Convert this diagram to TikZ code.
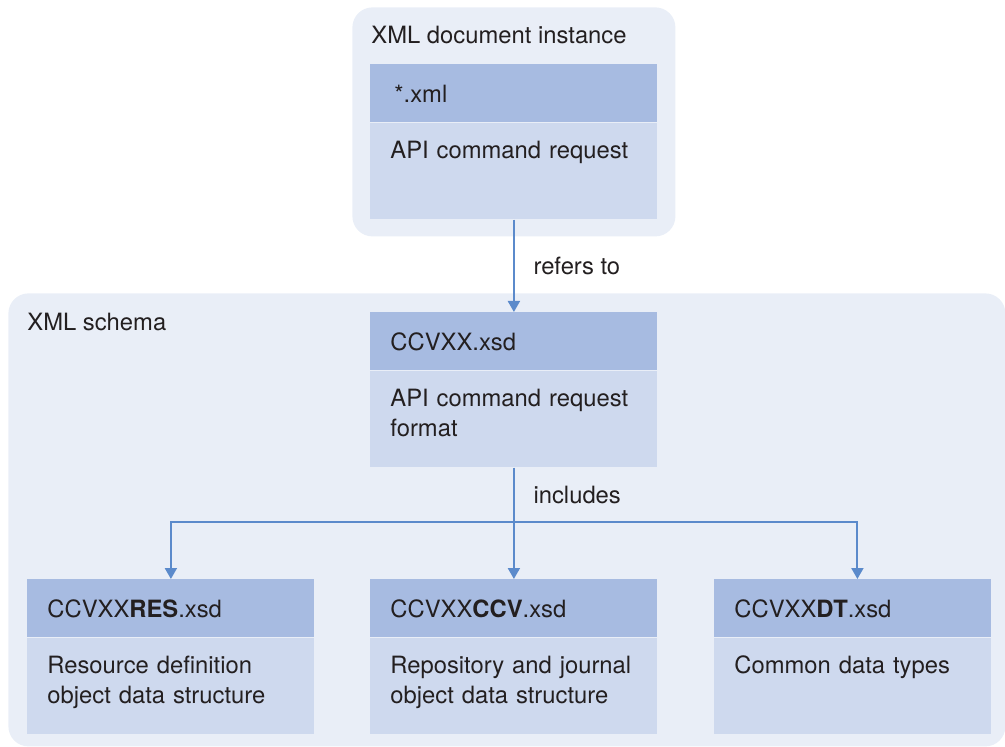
\documentclass[tikz,border=0pt]{standalone}
\usepackage{fontspec}
\setmainfont{TeX Gyre Heros}
\usepackage{tikz}
\usetikzlibrary{arrows.meta,positioning}

\definecolor{groupfill}{HTML}{E9EEF7}
\definecolor{headfill}{HTML}{A7BBE1}
\definecolor{bodyfill}{HTML}{CED9EE}
\definecolor{linkblue}{HTML}{5B8ACB}
\definecolor{inkgray}{HTML}{231F20}

\begin{document}
\begin{tikzpicture}[
  x=0.5pt, y=-0.5pt,
  every node/.style={font=\fontsize{11.9}{15}\selectfont, text=inkgray},
  group/.style={fill=groupfill, rounded corners=10pt, anchor=north west, inner sep=0pt},
  title/.style={anchor=base west, inner sep=0pt},
  head/.style={fill=headfill, anchor=north west, text width=123.5pt, inner xsep=10pt, inner ysep=0pt, minimum height=29pt, align=left},
  body/.style={fill=bodyfill, text width=123.5pt, inner xsep=10pt, inner ysep=9pt, text height=8.5pt, text depth=21.5pt, align=left, below=0pt of #1},
  link/.style={-{Triangle[width=6pt,length=5.5pt]}, draw=linkblue, line width=1pt},
  linkline/.style={draw=linkblue, line width=1pt}
]
\useasboundingbox (0,0) rectangle (1005,747);

% containers
\node[group, minimum width=161.5pt, minimum height=114.5pt] (inst) at (352,7) {};
\node[group, minimum width=498.5pt, minimum height=226.5pt] (schema) at (8,293) {};

% document instance
\node[title] (insttitle) at (371,44) {XML document instance};
\node[head] (xmlhead) at (370,64) {\hspace{2pt}*.xml};
\node[body=xmlhead] (xmlbody) {API command request};

% schema files
\node[title] (schematitle) at (27,331) {XML schema};
\node[head] (cmdhead) at (370,312) {CCVXX.xsd};
\node[body=cmdhead] (cmdbody) {API command request\\format};

\node[head] (reshead) at (27,579) {CCVXX\textbf{RES}.xsd};
\node[body=reshead] (resbody) {Resource definition\\object data structure};
\node[head] (ccvhead) at (370,579) {CCVXX\textbf{CCV}.xsd};
\node[body=ccvhead] (ccvbody) {Repository and journal\\object data structure};
\node[head, text width=118.5pt] (dthead) at (714,579) {CCVXX\textbf{DT}.xsd};
\node[body=dthead, text width=118.5pt] (dtbody) {Common data types};

\coordinate (split) at (cmdbody.south |- 0,522);

\draw[link] (xmlbody) -- node[right=6pt]{refers to} (cmdhead);
\draw[linkline] (cmdbody) -- node[right=6pt]{includes} (split);
\draw[link] (split) -- (ccvhead);
\draw[link] (split) -| (reshead);
\draw[link] (split) -| ([xshift=2.25pt]dthead.north);
\end{tikzpicture}
\end{document}
